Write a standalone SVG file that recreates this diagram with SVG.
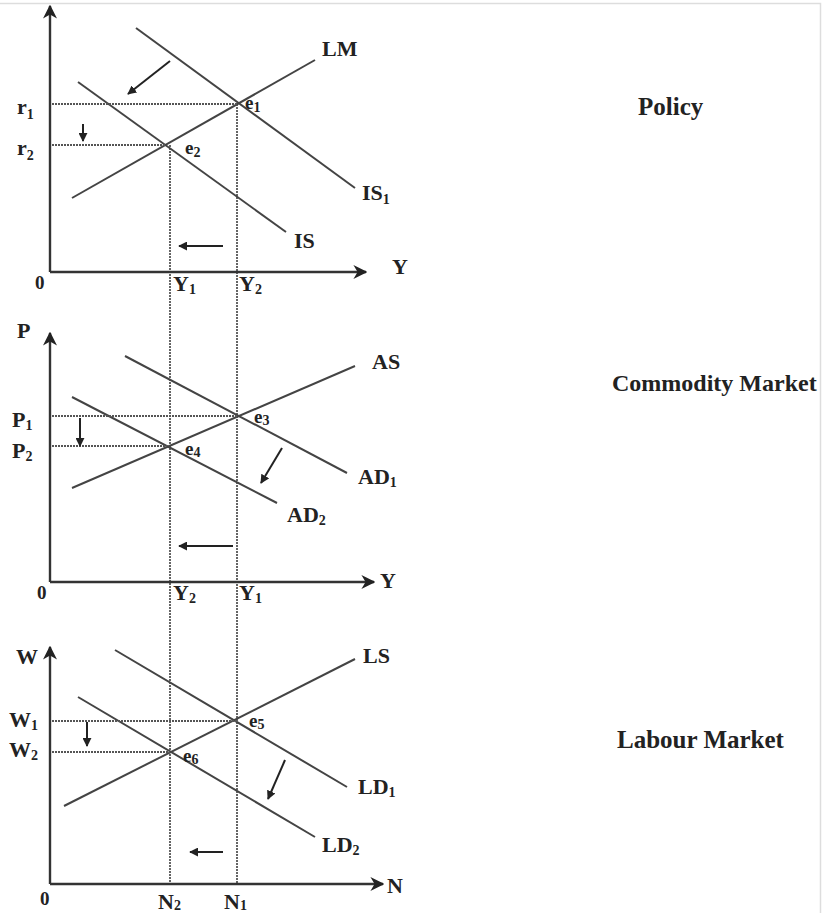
<svg xmlns="http://www.w3.org/2000/svg" width="826" height="913" viewBox="0 0 826 913">
<style>
text{font-family:"Liberation Serif","Times New Roman",serif;font-weight:bold;fill:#222;font-size:22px}
.sub{font-size:14px}
.e{font-size:19px}
.zero{font-size:19px}
.axis{stroke:#333;stroke-width:2.4;fill:none}
.curve{stroke:#444;stroke-width:2;fill:none}
.dot{stroke:#555;stroke-width:1.8;stroke-dasharray:2,1;fill:none}
.arr{stroke:#222;stroke-width:2;fill:none}
.title{font-size:25px}
</style>
<defs>
<marker id="ah" viewBox="0 0 10 10" refX="9" refY="5" markerWidth="9" markerHeight="9" markerUnits="userSpaceOnUse" orient="auto">
<path d="M0,0 L10,5 L0,10 z" fill="#222"/>
</marker>
<marker id="ax" viewBox="0 0 10 10" refX="9" refY="5" markerWidth="14" markerHeight="14" markerUnits="userSpaceOnUse" orient="auto">
<path d="M0,0 L10,5 L0,10 L3,5 z" fill="#222"/>
</marker>
</defs>
<rect width="826" height="913" fill="#fff"/>

<g id="connectors">
<line class="dot" x1="170" y1="145" x2="170" y2="884"/>
<line class="dot" x1="237" y1="104" x2="237" y2="884"/>
</g>

<g id="policy">
<line class="axis" x1="50" y1="272" x2="50" y2="6" marker-end="url(#ax)"/>
<line class="axis" x1="50" y1="272" x2="366" y2="272" marker-end="url(#ax)"/>
<line class="curve" x1="72" y1="198" x2="315" y2="60"/>
<line class="curve" x1="136" y1="28" x2="355" y2="188"/>
<line class="curve" x1="78" y1="82" x2="286" y2="232"/>
<line class="dot" x1="52" y1="104" x2="237" y2="104"/>
<line class="dot" x1="52" y1="145" x2="166" y2="145"/>
<line class="arr" x1="170" y1="61" x2="128" y2="94" marker-end="url(#ah)"/>
<line class="arr" x1="83" y1="124" x2="83" y2="141" marker-end="url(#ah)"/>
<line class="arr" x1="223" y1="246" x2="179" y2="246" marker-end="url(#ah)"/>
<text x="322" y="56">LM</text>
<text x="362" y="200">IS<tspan class="sub" dy="4">1</tspan></text>
<text x="294" y="248">IS</text>
<text x="392" y="274">Y</text>
<text class="zero" x="35" y="289">0</text>
<text x="173" y="291">Y<tspan class="sub" dy="3">1</tspan></text>
<text x="239" y="291">Y<tspan class="sub" dy="3">2</tspan></text>
<text class="e" x="245" y="109">e<tspan class="sub" dy="3">1</tspan></text>
<text class="e" x="185" y="154">e<tspan class="sub" dy="3">2</tspan></text>
<text x="17" y="114">r<tspan class="sub" dy="5">1</tspan></text>
<text x="17" y="155">r<tspan class="sub" dy="5">2</tspan></text>
<text class="title" x="638" y="115">Policy</text>
</g>

<g id="commodity">
<line class="axis" x1="50" y1="582" x2="50" y2="333" marker-end="url(#ax)"/>
<line class="axis" x1="50" y1="582" x2="374" y2="582" marker-end="url(#ax)"/>
<line class="curve" x1="72" y1="488" x2="355" y2="366"/>
<line class="curve" x1="125" y1="356" x2="347" y2="473"/>
<line class="curve" x1="72" y1="397" x2="277" y2="503"/>
<line class="dot" x1="52" y1="416" x2="237" y2="416"/>
<line class="dot" x1="52" y1="446" x2="167" y2="446"/>
<line class="arr" x1="80" y1="418" x2="80" y2="446" marker-end="url(#ah)"/>
<line class="arr" x1="282" y1="448" x2="261" y2="483" marker-end="url(#ah)"/>
<line class="arr" x1="233" y1="546" x2="179" y2="546" marker-end="url(#ah)"/>
<text x="17" y="338">P</text>
<text x="372" y="369">AS</text>
<text x="358" y="484">AD<tspan class="sub" dy="3">1</tspan></text>
<text x="287" y="522">AD<tspan class="sub" dy="3">2</tspan></text>
<text x="380" y="588">Y</text>
<text class="zero" x="37" y="599">0</text>
<text x="173" y="600">Y<tspan class="sub" dy="3">2</tspan></text>
<text x="239" y="600">Y<tspan class="sub" dy="3">1</tspan></text>
<text class="e" x="254" y="423">e<tspan class="sub" dy="2">3</tspan></text>
<text class="e" x="185" y="455">e<tspan class="sub" dy="2">4</tspan></text>
<text x="12" y="427">P<tspan class="sub" dy="3">1</tspan></text>
<text x="12" y="458">P<tspan class="sub" dy="3">2</tspan></text>
<text class="title" x="612" y="391" style="font-size:24px">Commodity Market</text>
</g>

<g id="labour">
<line class="axis" x1="50" y1="884" x2="50" y2="647" marker-end="url(#ax)"/>
<line class="axis" x1="50" y1="884" x2="383" y2="884" marker-end="url(#ax)"/>
<line class="curve" x1="64" y1="806" x2="355" y2="659"/>
<line class="curve" x1="115" y1="650" x2="347" y2="787"/>
<line class="curve" x1="78" y1="697" x2="315" y2="837"/>
<line class="dot" x1="52" y1="721" x2="237" y2="721"/>
<line class="dot" x1="52" y1="752" x2="170" y2="752"/>
<line class="arr" x1="87" y1="722" x2="87" y2="746" marker-end="url(#ah)"/>
<line class="arr" x1="285" y1="760" x2="268" y2="799" marker-end="url(#ah)"/>
<line class="arr" x1="223" y1="852" x2="190" y2="852" marker-end="url(#ah)"/>
<text x="16" y="664">W</text>
<text x="363" y="663">LS</text>
<text x="358" y="794">LD<tspan class="sub" dy="3">1</tspan></text>
<text x="322" y="852">LD<tspan class="sub" dy="3">2</tspan></text>
<text x="387" y="893">N</text>
<text class="zero" x="40" y="905">0</text>
<text x="158" y="909">N<tspan class="sub" dy="1">2</tspan></text>
<text x="224" y="909">N<tspan class="sub" dy="1">1</tspan></text>
<text class="e" x="249" y="727">e<tspan class="sub" dy="2">5</tspan></text>
<text class="e" x="183" y="762">e<tspan class="sub" dy="2">6</tspan></text>
<text x="9" y="727">W<tspan class="sub" dy="3">1</tspan></text>
<text x="9" y="757">W<tspan class="sub" dy="3">2</tspan></text>
<text class="title" x="617" y="748">Labour Market</text>
</g>
<path d="M0,3.5 H820.5 V913" stroke="#ddd" stroke-width="1.5" fill="none"/>
</svg>
